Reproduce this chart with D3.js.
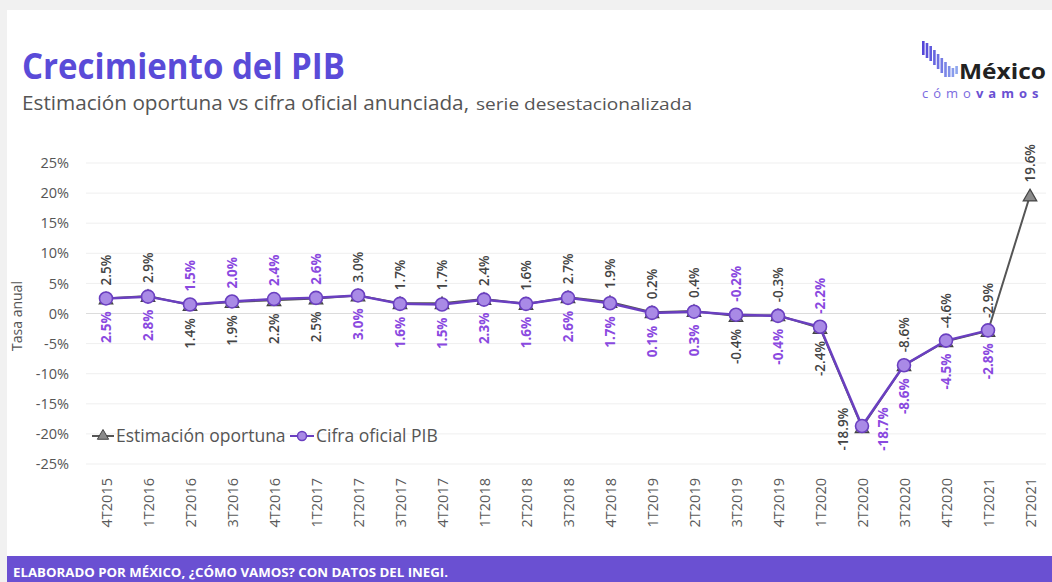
<!DOCTYPE html>
<meta charset="utf-8">
<style>
html, body { margin: 0; padding: 0; background: #f1f1f1; }
body { width: 1052px; height: 582px; overflow: hidden; }
text { font-family: "Open Sans", sans-serif; }
</style>
<body>
<div id="chart"></div>
<script src="https://cdn.jsdelivr.net/npm/d3@7"></script>
<script>

// Data
var quarters = ["4T2015","1T2016","2T2016","3T2016","4T2016","1T2017","2T2017","3T2017","4T2017",
                "1T2018","2T2018","3T2018","4T2018","1T2019","2T2019","3T2019","4T2019",
                "1T2020","2T2020","3T2020","4T2020","1T2021","2T2021"];
var oportuna = [2.5, 2.9, 1.4, 1.9, 2.2, 2.5, 3.0, 1.7, 1.7, 2.4, 1.6, 2.7, 1.9, 0.2, 0.4, -0.4, -0.3,
                -2.4, -18.9, -8.6, -4.6, -2.9, 19.6];
var oficial  = [2.5, 2.8, 1.5, 2.0, 2.4, 2.6, 3.0, 1.6, 1.5, 2.3, 1.6, 2.6, 1.7, 0.1, 0.3, -0.2, -0.4,
                -2.2, -18.7, -8.6, -4.5, -2.8, null];
var yTicks = [-25, -20, -15, -10, -5, 0, 5, 10, 15, 20, 25];

// quarters where the official label sits above the point
var oficialAbove = ["2T2016","3T2016","4T2016","1T2017","3T2019","1T2020"];

var width = 1052, height = 582;
var purple = "#6a3fc0", purpleLabel = "#8a49df", grayLine = "#555";

var svg = d3.select("#chart").append("svg")
    .attr("width", width).attr("height", height);

// card + footer
svg.append("rect").attr("x", 7).attr("y", 10).attr("width", width - 7).attr("height", height - 10)
   .attr("fill", "#fff");
svg.append("rect").attr("x", 7).attr("y", 556).attr("width", width - 7).attr("height", 26)
   .attr("fill", "#6a50d2");
svg.append("text").attr("x", 13).attr("y", 577)
   .attr("fill", "#fff").attr("font-size", 13).attr("font-weight", 700)
   .attr("textLength", 435).attr("lengthAdjust", "spacingAndGlyphs")
   .text("ELABORADO POR MÉXICO, ¿CÓMO VAMOS? CON DATOS DEL INEGI.");

// titles
svg.append("text").attr("x", 22).attr("y", 79)
   .attr("font-family", "Lato, sans-serif").attr("font-weight", 700)
   .attr("font-size", 36).attr("fill", "#5a4bd8")
   .attr("textLength", 323).attr("lengthAdjust", "spacingAndGlyphs")
   .text("Crecimiento del PIB");
svg.append("text").attr("x", 22).attr("y", 110).attr("fill", "#555")
   .attr("font-size", 20).attr("textLength", 447).attr("lengthAdjust", "spacingAndGlyphs")
   .text("Estimación oportuna vs cifra oficial anunciada,");
svg.append("text").attr("x", 476).attr("y", 110).attr("fill", "#555")
   .attr("font-size", 17).attr("textLength", 216).attr("lengthAdjust", "spacingAndGlyphs")
   .text("serie desestacionalizada");

// logo
var logo = svg.append("g");
var barTops = [41, 43, 46, 50, 54, 58, 62, 66, 68, 66];
var barBots = [55, 58, 61, 65, 69, 73, 77, 77, 77, 74];
var barCol = d3.scaleLinear().domain([0, 9]).range(["#5445d8", "#8ea6ee"]);
barTops.forEach(function(t, i) {
  logo.append("rect").attr("x", 922 + i * 3.7).attr("y", t)
      .attr("width", 2.6).attr("height", barBots[i] - t).attr("fill", barCol(i));
});
logo.append("text").attr("x", 959).attr("y", 79)
    .attr("font-size", 21).attr("font-weight", 700).attr("fill", "#222")
    .attr("textLength", 87).attr("lengthAdjust", "spacingAndGlyphs").text("México");
var cv = logo.append("text").attr("x", 922).attr("y", 98).attr("font-size", 13)
    .attr("letter-spacing", 5);
cv.append("tspan").attr("fill", "#7a6ae0").text("cómo");
cv.append("tspan").attr("fill", "#6a50d2").attr("font-weight", 700).text("vamos");

// scales
var x = d3.scalePoint().domain(quarters).range([106, 1030]);
var y = d3.scaleLinear().domain([-25, 25]).range([464, 163]);

// grid
svg.append("g").selectAll("line").data(yTicks).enter().append("line")
   .attr("x1", 86).attr("x2", 1046)
   .attr("y1", function(d) { return y(d); }).attr("y2", function(d) { return y(d); })
   .attr("stroke", function(d) { return d === 0 ? "#dcdcdc" : "#efefef"; })
   .attr("stroke-width", 1);

// y axis labels
var yAxis = svg.append("g").attr("transform", "translate(69,0)")
   .call(d3.axisLeft(y).tickValues(yTicks).tickSize(0).tickPadding(0)
          .tickFormat(function(d) { return d + "%"; }));
yAxis.select(".domain").remove();
yAxis.selectAll("text").attr("font-family", "Open Sans, sans-serif")
     .attr("font-size", 14.5).attr("fill", "#555");

svg.append("text").attr("transform", "translate(22,316) rotate(-90)")
   .attr("text-anchor", "middle").attr("font-size", 14).attr("fill", "#555")
   .text("Tasa anual");

// x axis labels
var xAxis = svg.append("g").attr("transform", "translate(0,474)")
   .call(d3.axisBottom(x).tickSize(0).tickPadding(0));
xAxis.select(".domain").remove();
xAxis.selectAll("text")
     .attr("font-family", "Open Sans, sans-serif").attr("font-size", 14.5).attr("fill", "#5a5a5a")
     .attr("text-anchor", "end").attr("dy", "0.35em").attr("y", 0)
     .attr("transform", "translate(0,4) rotate(-90)");

// lines
var ptsOp = quarters.map(function(q, i) { return {q: q, v: oportuna[i]}; });
var ptsOf = quarters.map(function(q, i) { return {q: q, v: oficial[i]}; })
                    .filter(function(d) { return d.v !== null; });
var line = d3.line().x(function(d) { return x(d.q); }).y(function(d) { return y(d.v); });

svg.append("path").datum(ptsOp).attr("d", line)
   .attr("fill", "none").attr("stroke", grayLine).attr("stroke-width", 2);
var tri = d3.symbol().type(d3.symbolTriangle).size(80);
svg.append("g").selectAll("path").data(ptsOp).enter().append("path")
   .attr("d", tri)
   .attr("transform", function(d) { return "translate(" + x(d.q) + "," + (y(d.v) + 1.5) + ")"; })
   .attr("fill", "#8a8a8a").attr("stroke", "#444").attr("stroke-width", 1.2);

svg.append("path").datum(ptsOf).attr("d", line)
   .attr("fill", "none").attr("stroke", purple).attr("stroke-width", 2.5);
svg.append("g").selectAll("circle").data(ptsOf).enter().append("circle")
   .attr("cx", function(d) { return x(d.q); }).attr("cy", function(d) { return y(d.v); })
   .attr("r", 6.5).attr("fill", "#a98ae6").attr("stroke", purple).attr("stroke-width", 1.6);

// data labels
function fmt(v) { return v.toFixed(1) + "%"; }
var labels = svg.append("g");
function addLabel(q, v, above, color, weight, dx, yy) {
  var px = x(q) + (dx || 0);
  var py = yy !== undefined ? yy : (above ? y(v) - 13 : y(v) + 13);
  labels.append("text")
    .attr("transform", "translate(" + (px + 5) + "," + py + ") rotate(-90)")
    .attr("text-anchor", yy !== undefined ? "middle" : (above ? "start" : "end"))
    .attr("font-size", 13.5).attr("font-weight", weight).attr("fill", color)
    .text(fmt(v));
}
quarters.forEach(function(q, i) {
  var vo = oportuna[i], vf = oficial[i];
  if (q === "2T2020") {
    var cy = y(vf) + 3;
    addLabel(q, vo, false, "#444", 600, -19, cy);
    addLabel(q, vf, false, purpleLabel, 700, 21, cy);
    return;
  }
  var ofUp = oficialAbove.indexOf(q) >= 0;
  addLabel(q, vo, !ofUp, "#444", 600, 0, undefined);
  if (vf !== null) addLabel(q, vf, ofUp, purpleLabel, 700, 0, undefined);
});

// legend
var lg = svg.append("g").attr("transform", "translate(92,436)");
lg.append("line").attr("x1", 0).attr("x2", 22).attr("stroke", grayLine).attr("stroke-width", 2);
lg.append("path").attr("d", d3.symbol().type(d3.symbolTriangle).size(55))
  .attr("transform", "translate(11,0)").attr("fill", "#8a8a8a").attr("stroke", "#444");
lg.append("text").attr("x", 24).attr("y", 6).attr("font-size", 17.5).attr("fill", "#555")
  .text("Estimación oportuna");
lg.append("line").attr("x1", 198).attr("x2", 222).attr("stroke", purple).attr("stroke-width", 2);
lg.append("circle").attr("cx", 210).attr("r", 4.5)
  .attr("fill", "#a98ae6").attr("stroke", purple).attr("stroke-width", 1.5);
lg.append("text").attr("x", 224).attr("y", 6).attr("font-size", 17.5).attr("fill", "#555")
  .text("Cifra oficial PIB");

</script>
</body>
